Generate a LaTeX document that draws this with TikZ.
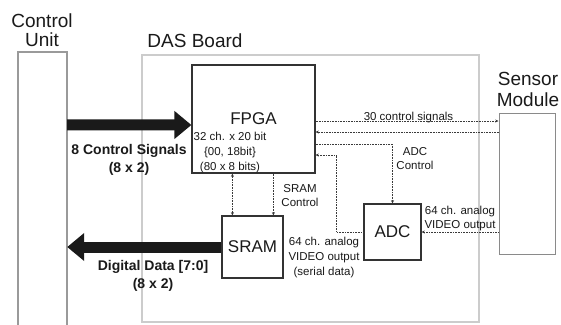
\documentclass[tikz,border=0pt]{standalone}
\usepackage{fontspec}
\setmainfont{Liberation Sans}
\usetikzlibrary{arrows.meta,calc}
\definecolor{ink}{HTML}{1A1A1A}
\definecolor{boxline}{HTML}{333333}
\definecolor{culine}{HTML}{9A9A9A}
\definecolor{dasline}{HTML}{CCCCCC}
\definecolor{senline}{HTML}{8A8A8A}
\definecolor{dotline}{HTML}{3A3A3A}
\begin{document}
\begin{tikzpicture}[x=1pt,y=-1pt,
  every node/.style={text=ink},
  blk/.style={draw=boxline, line width=1.2pt, inner sep=0pt, font=\fontsize{17}{20}\selectfont},
  title/.style={font=\fontsize{19}{19}\selectfont, align=center, inner sep=0pt},
  lbl/.style={font=\fontsize{11.5}{15}\selectfont, align=center, inner sep=0pt},
  bold/.style={font=\fontsize{14}{18}\selectfont\bfseries, align=center, inner sep=0pt},
  bigarrow/.style={draw=ink, line width=11pt, -{Triangle[length=17pt,width=27pt]}},
  dotted line/.style={draw=dotline, line width=0.8pt, dash pattern=on 0.8pt off 0.8pt},
  tipend/.style={-{Stealth[length=3.2pt,width=3pt]}},
  tipstart/.style={{Stealth[length=3.2pt,width=3pt]}-},
  tipboth/.style={{Stealth[length=3.2pt,width=3pt]}-{Stealth[length=3.2pt,width=3pt]}}]
\useasboundingbox[fill=white] (0,0) rectangle (561,324);

% frames
\node[draw=dasline, line width=1.5pt, minimum width=337, minimum height=267, inner sep=0pt] (das) at (310.5,188.5) {};
\node[minimum width=49, minimum height=300, inner sep=0pt] (cu) at (42.5,202) {};
\draw[culine, line width=1.5pt] (cu.south west) |- (cu.north east) -- (cu.south east);
\node[draw=senline, line width=1pt, minimum width=56, minimum height=141, inner sep=0pt] (sensor) at (527,183.5) {};

% blocks
\node[blk, minimum width=123, minimum height=108] (fpga) at (253.5,119) {FPGA};
\node[blk, minimum width=61, minimum height=62] (sram) at (252.5,247) {SRAM};
\node[blk, minimum width=57, minimum height=56] (adc) at (392.5,232) {ADC};

% titles
\node[title, anchor=north] (tcu) at (42,14) {Control\\Unit};
\node[title, anchor=base] (tdas) at (195,47) {DAS Board};
\node[title, anchor=north, font=\fontsize{19}{21}\selectfont] (tsen) at (528,72) {Sensor\\Module};

% labels
\node[lbl, anchor=north] (tfpga) at (230,131.6) {32 ch. x 20 bit\\\{00, 18bit\}\\(80 x 8 bits)};
\node[bold, anchor=north] (tctl) at (129,143.8) {8 Control Signals\\(8 x 2)};
\node[bold, anchor=north] (tdd) at (153,259.8) {Digital Data [7:0]\\(8 x 2)};
\node[lbl, anchor=base] (t30) at (408.5,120) {30 control signals};
\node[lbl, anchor=north, font=\fontsize{11.5}{14.5}\selectfont] (tadcc) at (415,147) {ADC\\Control};
\node[lbl, anchor=north, font=\fontsize{11.5}{14.5}\selectfont] (tsramc) at (300,184) {SRAM\\Control};
\node[lbl, anchor=north] (tvid1) at (324,236.6) {64 ch. analog\\VIDEO output\\(serial data)};
\node[lbl, anchor=north, font=\fontsize{11.5}{14}\selectfont] (tvid2) at (460,205.6) {64 ch. analog\\VIDEO output};

% big arrows
\draw[bigarrow] ($(cu.north east)+(0,73)$) -- ($(fpga.west)+(0,6)$);
\draw[bigarrow] (sram.west) -- (cu.east |- sram.west);

% dotted connectors
\draw[dotted line, tipend] ($(fpga.east)+(0,2)$) -- ($(sensor.west |- fpga.east)+(0,2)$);
\draw[dotted line, tipstart] ($(fpga.east)+(0,13)$) -- ($(sensor.west |- fpga.east)+(0,13)$);
\draw[dotted line, tipend] ($(fpga.east)+(0,25)$) -| (adc.north);
\draw[dotted line, tipend] (adc.west) -| ($(fpga.east)+(21,36)$) -- ($(fpga.east)+(0,36)$);
\draw[dotted line, tipend] (sensor.west |- adc.east) -- (adc.east);
\draw[dotted line, tipboth] ($(fpga.south west)+(41,0)$) -- ($(sram.north west)+(11,0)$);
\draw[dotted line, tipend] ($(fpga.south west)+(82,0)$) -- ($(sram.north west)+(52,0)$);
\end{tikzpicture}
\end{document}
